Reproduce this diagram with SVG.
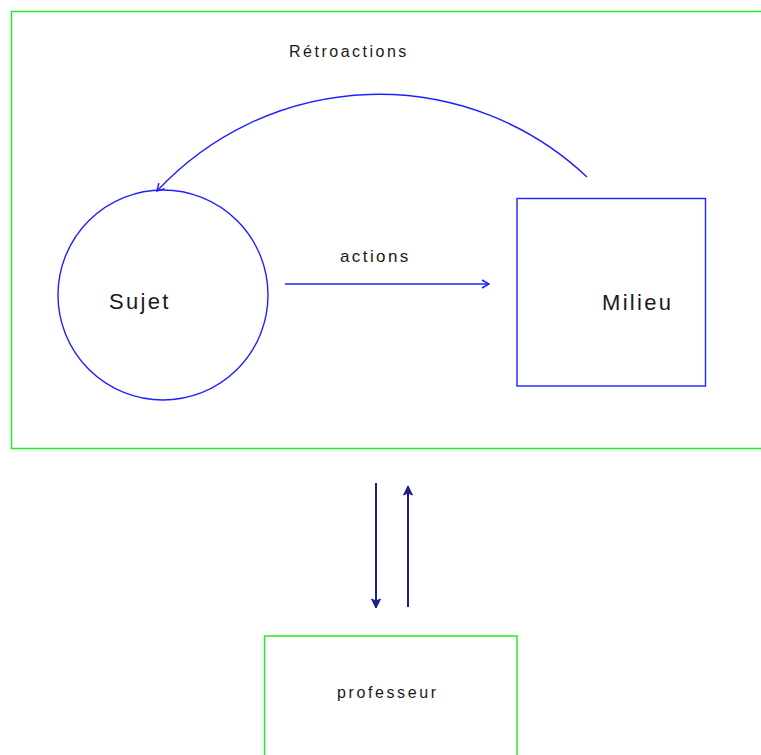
<svg xmlns="http://www.w3.org/2000/svg" width="761" height="755" viewBox="0 0 761 755">
<style>
.frame{fill:none;stroke:#22ee22;stroke-width:1.5}
.blue{fill:none;stroke:#2020ff;stroke-width:1.4}
.navy{fill:none;stroke:#1e1e8c;stroke-width:2}
text{font-family:"Liberation Sans",Arial,sans-serif;fill:#1a1a1a}
</style>
<defs>
<marker id="ab" markerWidth="10" markerHeight="10" refX="9" refY="5" orient="auto" markerUnits="userSpaceOnUse">
<path d="M2,1 L9,5 L2,9" fill="none" stroke="#2020ff" stroke-width="1.5"/>
</marker>
<marker id="an" markerWidth="12" markerHeight="12" refX="10" refY="6" orient="auto" markerUnits="userSpaceOnUse">
<path d="M1,1.5 L10,6 L1,10.5 L3,6 Z" fill="#1e1e8c" stroke="#1e1e8c" stroke-width="1"/>
</marker>
</defs>
<rect width="761" height="755" fill="#fff"/>
<g id="systeme">
<rect class="frame" x="11.5" y="11.5" width="760" height="437"/>
</g>
<g id="sujet">
<circle class="blue" cx="163" cy="295" r="105"/>
<text x="109" y="309" font-size="22" letter-spacing="2.3">Sujet</text>
</g>
<g id="milieu">
<rect class="blue" x="517" y="198.5" width="188.5" height="187.5"/>
<text x="602" y="310" font-size="22" letter-spacing="2.3">Milieu</text>
</g>
<g id="professeur">
<rect class="frame" x="264.5" y="636" width="252.5" height="130"/>
<text x="337" y="698" font-size="16" letter-spacing="2.6">professeur</text>
</g>
<g id="connecteurs">
<path class="blue" d="M587,177 A303,303 0 0,0 157,191" marker-end="url(#ab)"/>
<text x="289" y="57" font-size="16" letter-spacing="2.5">Rétroactions</text>
<line class="blue" x1="285" y1="284" x2="489" y2="284" marker-end="url(#ab)"/>
<text x="340" y="262" font-size="17" letter-spacing="2.4">actions</text>
<line class="navy" x1="376" y1="483" x2="376" y2="608" marker-end="url(#an)"/>
<line class="navy" x1="408" y1="607" x2="408" y2="486" marker-end="url(#an)"/>
</g>
</svg>
